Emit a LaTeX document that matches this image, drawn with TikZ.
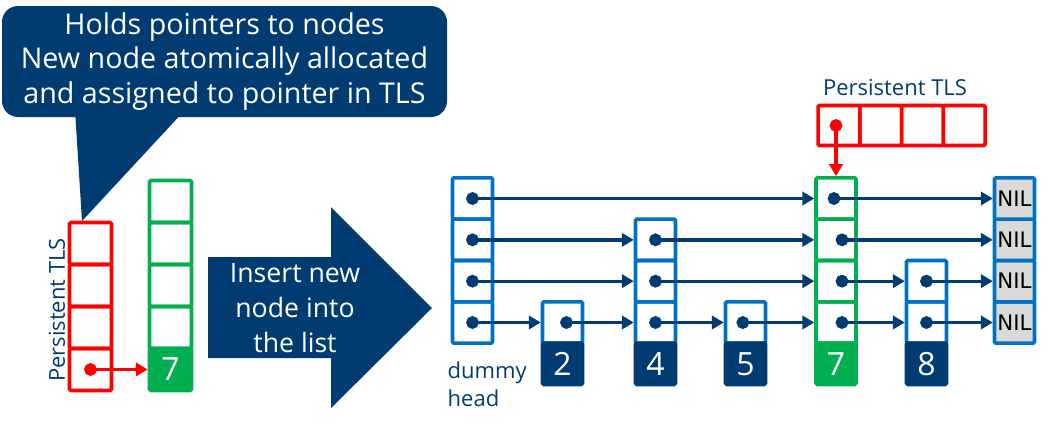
\documentclass[tikz,border=0pt]{standalone}
\usepackage{fontspec}
\setmainfont{Open Sans}
\newfontfamily\nilfont{DejaVu Sans}
\usepackage{tikz}
\usetikzlibrary{arrows.meta,positioning}
\definecolor{dblue}{HTML}{003C71}
\definecolor{mblue}{HTML}{0071C5}
\definecolor{tlsred}{HTML}{FF0000}
\definecolor{newgreen}{HTML}{00B050}
\definecolor{nilgray}{HTML}{D9D9D9}

\begin{document}
\begin{tikzpicture}[x=0.75pt, y=-0.75pt, node distance=0pt, cell/.style={draw=mblue,line width=2.7pt,rounded corners=1pt,minimum width=30pt,minimum height=31pt,inner sep=0pt,outer sep=0pt}, val/.style={cell,fill=dblue,draw=dblue,text=white,font=\fontsize{24}{24}\selectfont}, newcell/.style={cell,draw=newgreen}, newval/.style={val,fill=newgreen,draw=newgreen}, tlscell/.style={cell,draw=tlsred,minimum width=31.3pt,minimum height=30pt}, tlsvcell/.style={cell,draw=tlsred,minimum width=31.5pt,minimum height=31.5pt}, nilcell/.style={cell,fill=nilgray,font=\nilfont\fontsize{16}{16}\selectfont}, ptr/.style={draw=dblue,line width=2.5pt,{Circle[length=9.5pt]}-{Triangle[length=9pt,width=10pt]},shorten <=-4.75pt,shorten >=1.3pt}, tlsptr/.style={ptr,draw=tlsred}, lbl/.style={text=dblue,font=\fontsize{16.5}{21}\selectfont}]
\useasboundingbox (0,0) rectangle (1049,426);
% callout
\node[fill=dblue,rounded corners=12pt,minimum width=333.75pt,minimum height=83.25pt,inner sep=0pt,align=center,text=white,font=\fontsize{21.5}{26}\selectfont] (callout) at (224.5,61.5) {Holds pointers to nodes\\New node atomically allocated\\and assigned to pointer in TLS};
\fill[dblue] (75,110) -- (82,221) -- (185,110) -- cycle;
% thread local storage and new node
\node[tlsvcell] (tlsA0) at (90.5,369.5) {};
\node[tlsvcell,above=of tlsA0] (tlsA1) {}; \node[tlsvcell,above=of tlsA1] (tlsA2) {}; \node[tlsvcell,above=of tlsA2] (tlsA3) {};
\node[lbl,rotate=90] (tlsAlbl) at (57,310) {Persistent TLS};
\node[newval,minimum width=31.5pt,minimum height=31.5pt] (newv) at (170.5,369.5) {7};
\node[newcell,minimum width=31.5pt,minimum height=31.5pt,above=of newv] (newc0) {};
\node[newcell,minimum width=31.5pt,minimum height=31.5pt,above=of newc0] (newc1) {};
\node[newcell,minimum width=31.5pt,minimum height=31.5pt,above=of newc1] (newc2) {};
\node[newcell,minimum width=31.5pt,minimum height=31.5pt,above=of newc2] (newc3) {};
\draw[tlsptr] (tlsA0.center) -- (newv.west);
% big arrow
\fill[dblue] (208,257) -- (331,257) -- (331,207) -- (432,308) -- (331,408) -- (331,358) -- (208,358) -- cycle;
\node[text=white,align=center,font=\fontsize{20}{26}\selectfont] (insert) at (295,308) {Insert new\\node into\\the list};
% skip list
\node[cell] (head0) at (472.5,322.5) {};
\node[cell,above=of head0] (head1) {}; \node[cell,above=of head1] (head2) {}; \node[cell,above=of head2] (head3) {};
\node[lbl,align=left,anchor=north west] (dummy) at (443,357) {dummy\\head};
\node[cell] (n2c0) at (562.5,322.5) {}; \node[val,below=of n2c0] (n2v) {2};
\node[cell] (n4c0) at (655.5,322.5) {}; \node[val,below=of n4c0] (n4v) {4};
\node[cell,above=of n4c0] (n4c1) {}; \node[cell,above=of n4c1] (n4c2) {};
\node[cell] (n5c0) at (745.5,322.5) {}; \node[val,below=of n5c0] (n5v) {5};
\node[newcell] (n7c0) at (836,322.5) {}; \node[newval,below=of n7c0] (n7v) {7};
\node[newcell,above=of n7c0] (n7c1) {}; \node[newcell,above=of n7c1] (n7c2) {}; \node[newcell,above=of n7c2] (n7c3) {};
\node[cell] (n8c0) at (926.5,322.5) {}; \node[val,below=of n8c0] (n8v) {8};
\node[cell,above=of n8c0] (n8c1) {};
\node[nilcell] (nil0) at (1014.5,322.5) {NIL};
\node[nilcell,above=of nil0] (nil1) {NIL}; \node[nilcell,above=of nil1] (nil2) {NIL}; \node[nilcell,above=of nil2] (nil3) {NIL};
% persistent TLS of the thread
\node[tlscell] (tls0) at (839,125.5) {};
\node[tlscell,right=of tls0] (tls1) {}; \node[tlscell,right=of tls1] (tls2) {}; \node[tlscell,right=of tls2] (tls3) {};
\node[lbl] (tlslbl) at (895,88) {Persistent TLS};
% pointers
\draw[ptr] (head3.center) -- (n7c3.west);
\draw[ptr] (head2.center) -- (n4c2.west);
\draw[ptr] (head1.center) -- (n4c1.west);
\draw[ptr] (head0.center) -- (n2c0.west);
\draw[ptr] ([xshift=3pt]n2c0.center) -- (n4c0.west);
\draw[ptr] (n4c2.center) -- (n7c2.west);
\draw[ptr] (n4c1.center) -- (n7c1.west);
\draw[ptr] (n4c0.center) -- (n5c0.west);
\draw[ptr] ([xshift=-2pt]n5c0.center) -- (n7c0.west);
\draw[ptr] ([xshift=-1.5pt]n7c3.center) -- (nil3.west);
\draw[ptr] ([xshift=4.5pt]n7c2.center) -- (nil2.west);
\draw[ptr] ([xshift=4.5pt]n7c1.center) -- (n8c1.west);
\draw[ptr] ([xshift=4.5pt]n7c0.center) -- (n8c0.west);
\draw[ptr] (n8c1.center) -- (nil1.west);
\draw[ptr] (n8c0.center) -- (nil0.west);
\draw[tlsptr] (n7c3.north |- tls0.center) -- (n7c3.north);
\end{tikzpicture}
\end{document}
